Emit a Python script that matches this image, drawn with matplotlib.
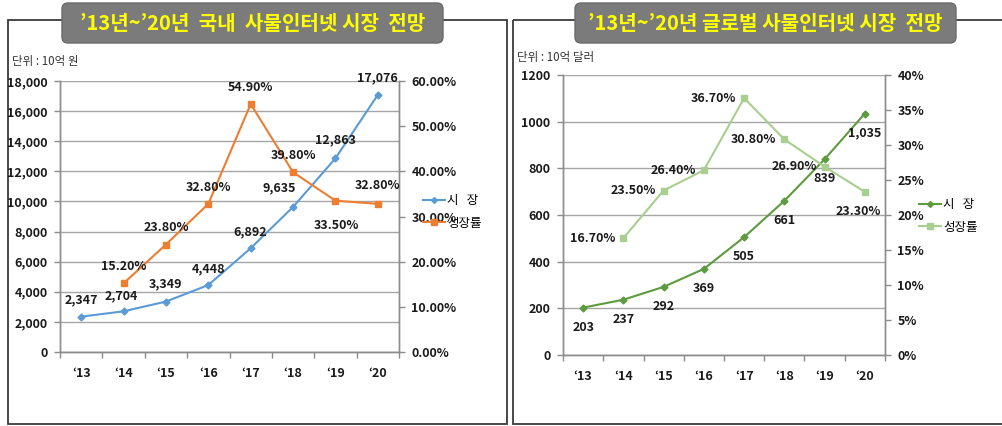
import matplotlib
matplotlib.use('Agg')
import matplotlib.pyplot as plt
from matplotlib.patches import Rectangle, FancyBboxPatch
from matplotlib.lines import Line2D
from matplotlib.ticker import FixedLocator, FuncFormatter

plt.rcParams['font.family'] = ['Noto Sans CJK KR', 'DejaVu Sans']

# 데이터
years = ['‘13', '‘14', '‘15', '‘16', '‘17', '‘18', '‘19', '‘20']

kr_market = [2347, 2704, 3349, 4448, 6892, 9635, 12863, 17076]
kr_growth = [None, 15.2, 23.8, 32.8, 54.9, 39.8, 33.5, 32.8]

gl_market = [203, 237, 292, 369, 505, 661, 839, 1035]
gl_growth = [None, 16.7, 23.5, 26.4, 36.7, 30.8, 26.9, 23.3]

# 라벨 위치 (포인트 단위 오프셋)
kr_market_off = [(0, 12), (-2, 11), (0, 13), (0, 12), (0, 12), (-10, 14), (0, 13), (0, 12)]
kr_growth_off = [None, (0, 12), (0, 12), (0, 12), (0, 12), (0, 12), (1, -18), (0, 13)]
gl_market_off = [(0, -14), (0, -14), (0, -14), (0, -14), (0, -14), (0, -14), (0, -14), (0, -14)]
gl_growth_off = [None, (-22, 0), (-22, 0), (-22, 0), (-22, 0), (-22, 0), (-22, 0), (-5, -14)]

W, H = 1002, 426
fig = plt.figure(figsize=(W / 100, H / 100), dpi=100)

# 배경 (프레임, 제목 상자)
bg = fig.add_axes([0, 0, 1, 1], zorder=0)
bg.set_xlim(0, W)
bg.set_ylim(H, 0)
bg.axis('off')
bg.add_patch(Rectangle((8, 20), 499, 404, fill=False, ec='#3a3a3a', lw=1.3))
bg.add_patch(Rectangle((513, 20), 520, 404, fill=False, ec='#3a3a3a', lw=1.3))

titles = [(62, 443, "’13년~’20년  국내  사물인터넷 시장  전망"),
          (575, 956, "’13년~’20년 글로벌 사물인터넷 시장  전망")]
for x0, x1, t in titles:
    bg.add_patch(FancyBboxPatch((x0 + 6, 3 + 6), x1 - x0 - 12, 40 - 12,
                                boxstyle='round,pad=6', fc='#7b7b7b', ec='#6a6a6a', lw=1))
    bg.text((x0 + x1) / 2, 23, t, ha='center', va='center', color='#ffff00',
            fontsize=14.5, fontweight='bold')

bg.text(12, 62, '단위 : 10억 원', fontsize=8.3, color='#333333', va='center')
bg.text(517, 58, '단위 : 10억 달러', fontsize=8.3, color='#333333', va='center')


def draw(rect, market, growth, ymax, ystep, gmax, gstep, yfmt, gfmt,
         c1, c2, m_off, g_off, gfmt_lbl, leg_xy):
    ax = fig.add_axes(rect, zorder=1)
    ax.patch.set_alpha(0)
    ax2 = ax.twinx()
    x = list(range(len(years)))

    ax.set_xlim(-0.5, len(years) - 0.5)
    ax.set_ylim(0, ymax)
    ax2.set_ylim(0, gmax)
    ax.set_yticks(range(0, ymax + 1, ystep))
    ax2.set_yticks(range(0, gmax + 1, gstep))
    ax.yaxis.set_major_formatter(FuncFormatter(yfmt))
    ax2.yaxis.set_major_formatter(FuncFormatter(gfmt))
    ax.grid(axis='y', color='#a6a6a6', lw=1)
    ax.set_axisbelow(True)

    ax.set_xticks(x)
    ax.set_xticklabels(years)
    ax.xaxis.set_minor_locator(FixedLocator([i - 0.5 for i in range(len(years) + 1)]))
    ax.tick_params(axis='x', which='major', length=0, pad=11)
    ax.tick_params(axis='x', which='minor', length=4, color='#8c8c8c', width=1)
    ax.tick_params(axis='y', length=4, color='#8c8c8c', width=1, pad=5)
    ax2.tick_params(axis='y', length=4, color='#8c8c8c', width=1, pad=5)
    for a in (ax, ax2):
        for lbl in a.get_xticklabels() + a.get_yticklabels():
            lbl.set_fontweight('bold')
            lbl.set_fontsize(9)
            lbl.set_color('#1a1a1a')
        a.spines['top'].set_visible(False)
        for s in ('left', 'right', 'bottom'):
            a.spines[s].set_color('#8c8c8c')
            a.spines[s].set_linewidth(1)

    ax.plot(x, market, color=c1, lw=1.5, marker='D', ms=3.5, zorder=3)
    gx = [i for i, v in zip(x, growth) if v is not None]
    gy = [v for v in growth if v is not None]
    ax2.plot(gx, gy, color=c2, lw=1.5, marker='s', ms=5, zorder=3)

    for i, v in enumerate(market):
        ax.annotate(f'{v:,}', (i, v), xytext=m_off[i], textcoords='offset points',
                    ha='center', va='center', fontsize=9, fontweight='bold', color='#1a1a1a')
    for i, v in enumerate(growth):
        if v is None:
            continue
        ax2.annotate(gfmt_lbl(v), (i, v), xytext=g_off[i], textcoords='offset points',
                     ha='center', va='center', fontsize=9, fontweight='bold', color='#1a1a1a')

    handles = [Line2D([], [], color=c1, lw=1.5, marker='D', ms=3),
               Line2D([], [], color=c2, lw=1.5, marker='s', ms=4.5)]
    leg = fig.legend(handles, ['시   장', '성장률'], loc='center left',
                     bbox_to_anchor=(leg_xy[0] / W, 1 - leg_xy[1] / H), frameon=False,
                     fontsize=9, handlelength=1.7, handletextpad=0.2, labelspacing=0.75)
    leg.set_zorder(5)


draw([60 / W, 1 - 352 / H, 339 / W, 271 / H], kr_market, kr_growth,
     18000, 2000, 60, 10,
     lambda v, p: f'{v:,.0f}', lambda v, p: f'{v:.2f}%',
     '#5b9bd5', '#ed7d31', kr_market_off, kr_growth_off,
     lambda v: f'{v:.2f}%', (412, 212))

draw([563 / W, 1 - 355 / H, 322 / W, 280 / H], gl_market, gl_growth,
     1200, 200, 40, 5,
     lambda v, p: f'{v:.0f}', lambda v, p: f'{v:.0f}%',
     '#5e9b3e', '#a8cf8f', gl_market_off, gl_growth_off,
     lambda v: f'{v:.2f}%', (908, 216))

fig.savefig('out.png', dpi=100)
